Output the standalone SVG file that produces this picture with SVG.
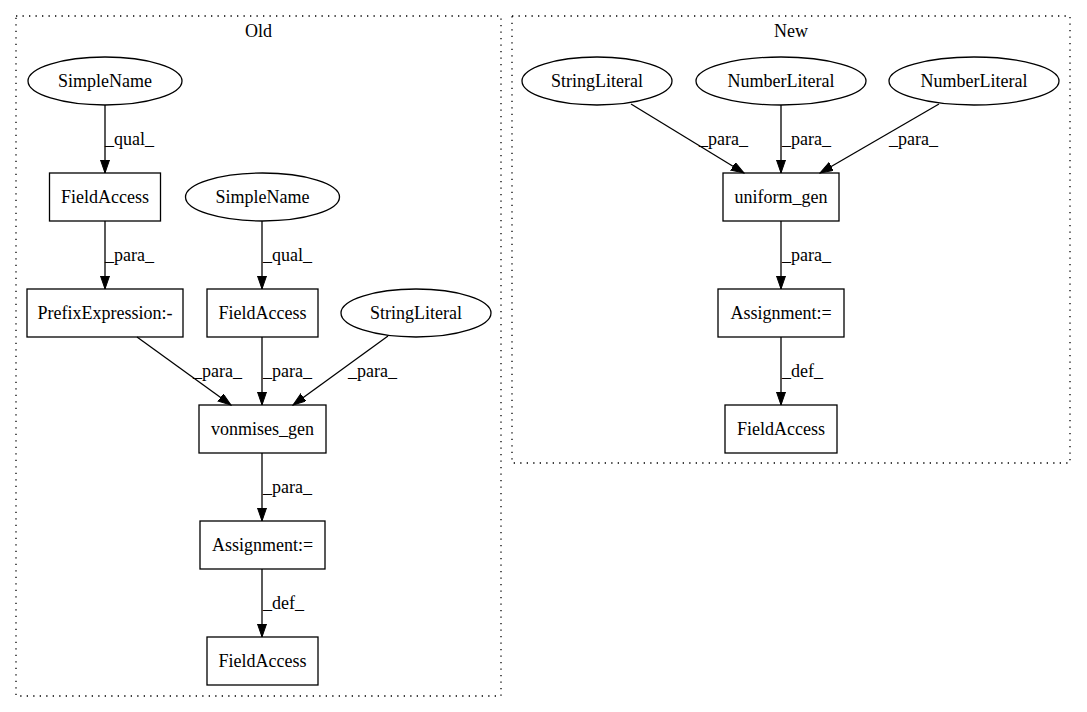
<svg xmlns="http://www.w3.org/2000/svg" width="1087" height="712" viewBox="0 0 1087 712">
<defs>
<marker id="arr" markerUnits="userSpaceOnUse" markerWidth="14" markerHeight="11" refX="13" refY="4.5" orient="auto">
<path d="M0,0 L13,4.5 L0,9 z" fill="#000" stroke="#000" stroke-width="1"/>
</marker>
<style>
text{font-family:"Liberation Serif","Times New Roman",serif;font-size:18px;fill:#000}
.n{text-anchor:middle}
.box{fill:none;stroke:#000;stroke-width:1.3}
.cl{fill:none;stroke:#000;stroke-width:1.3;stroke-dasharray:1.3,5.2}
.e{fill:none;stroke:#000;stroke-width:1.3;marker-end:url(#arr)}
</style>
</defs>
<rect width="1087" height="712" fill="#fff"/>
<g id="cluster_old">
<rect class="cl" x="16" y="16" width="485" height="680"/>
<text class="n" x="258.5" y="37">Old</text>
</g>
<g id="cluster_new">
<rect class="cl" x="512" y="16" width="558" height="447"/>
<text class="n" x="791" y="37">New</text>
</g>
<g id="connectors">
<path class="e" d="M105,105 L105,173"/>
<text x="105" y="145">_qual_</text>
<path class="e" d="M105,221 L105,289"/>
<text x="105" y="261">_para_</text>
<path class="e" d="M262,221 L262,289"/>
<text x="263" y="261">_qual_</text>
<path class="e" d="M137,337 L231,405"/>
<text x="193" y="377">_para_</text>
<path class="e" d="M262,337 L262,405"/>
<text x="263" y="377">_para_</text>
<path class="e" d="M388,336 L293,405"/>
<text x="348" y="377">_para_</text>
<path class="e" d="M262,453 L262,521"/>
<text x="263" y="493">_para_</text>
<path class="e" d="M262,569 L262,637"/>
<text x="263" y="609">_def_</text>
<path class="e" d="M631,104 L744,173"/>
<text x="699" y="145">_para_</text>
<path class="e" d="M781,105 L781,173"/>
<text x="782" y="145">_para_</text>
<path class="e" d="M939,104 L820,173"/>
<text x="889" y="145">_para_</text>
<path class="e" d="M781,221 L781,289"/>
<text x="782" y="261">_para_</text>
<path class="e" d="M781,337 L781,405"/>
<text x="782" y="377">_def_</text>
</g>
<g id="old_simplename1"><ellipse class="box" cx="105" cy="81" rx="77" ry="24"/><text class="n" x="105" y="87">SimpleName</text></g>
<g id="old_fieldaccess1"><rect class="box" x="49.5" y="173" width="111" height="48"/><text class="n" x="105" y="203">FieldAccess</text></g>
<g id="old_simplename2"><ellipse class="box" cx="262.5" cy="197" rx="77" ry="24"/><text class="n" x="262.5" y="203">SimpleName</text></g>
<g id="old_prefix"><rect class="box" x="27" y="289" width="156" height="48"/><text class="n" x="105" y="319">PrefixExpression:-</text></g>
<g id="old_fieldaccess2"><rect class="box" x="207" y="289" width="111" height="48"/><text class="n" x="262.5" y="319">FieldAccess</text></g>
<g id="old_stringliteral"><ellipse class="box" cx="416" cy="313" rx="75" ry="24"/><text class="n" x="416" y="319">StringLiteral</text></g>
<g id="old_vonmises"><rect class="box" x="199" y="405" width="127" height="48"/><text class="n" x="262.5" y="435">vonmises_gen</text></g>
<g id="old_assignment"><rect class="box" x="200" y="521" width="125" height="48"/><text class="n" x="262.5" y="551">Assignment:=</text></g>
<g id="old_fieldaccess3"><rect class="box" x="207" y="637" width="111" height="48"/><text class="n" x="262.5" y="667">FieldAccess</text></g>
<g id="new_stringliteral"><ellipse class="box" cx="597" cy="81" rx="75" ry="24"/><text class="n" x="597" y="87">StringLiteral</text></g>
<g id="new_numberliteral1"><ellipse class="box" cx="781" cy="81" rx="85" ry="24"/><text class="n" x="781" y="87">NumberLiteral</text></g>
<g id="new_numberliteral2"><ellipse class="box" cx="974" cy="81" rx="85" ry="24"/><text class="n" x="974" y="87">NumberLiteral</text></g>
<g id="new_uniform"><rect class="box" x="723" y="173" width="116" height="48"/><text class="n" x="781" y="203">uniform_gen</text></g>
<g id="new_assignment"><rect class="box" x="718" y="289" width="126" height="48"/><text class="n" x="781" y="319">Assignment:=</text></g>
<g id="new_fieldaccess"><rect class="box" x="725" y="405" width="112" height="48"/><text class="n" x="781" y="435">FieldAccess</text></g>
</svg>
